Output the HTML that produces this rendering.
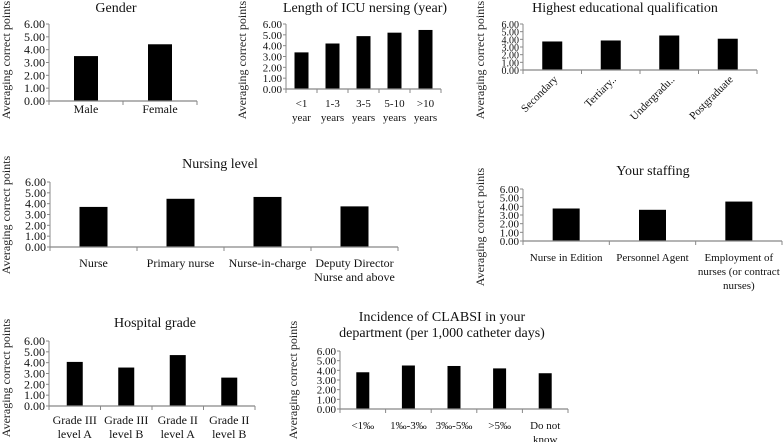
<!DOCTYPE html>
<html><head><meta charset="utf-8">
<style>
html,body{margin:0;padding:0;background:#fff;}
svg{display:block;font-family:"Liberation Serif",serif;}
</style></head>
<body>
<svg id="fig" width="783" height="442" viewBox="0 0 783 442" xmlns="http://www.w3.org/2000/svg"></svg>
<script>
const yTicks = [0,1,2,3,4,5,6];
const genderCats = ["Male","Female"];
const genderVals = [3.5,4.42];
const icuCats = ["<1|year","1-3|years","3-5|years","5-10|years",">10|years"];
const icuVals = [3.38,4.2,4.88,5.2,5.45];
const eduCats = ["Secondary","Tertiary..","Undergradu..","Postgraduate"];
const eduVals = [3.72,3.85,4.5,4.08];
const levelCats = ["Nurse","Primary nurse","Nurse-in-charge","Deputy Director|Nurse and above"];
const levelVals = [3.7,4.45,4.62,3.75];
const staffCats = ["Nurse in Edition","Personnel Agent","Employment of|nurses (or contract|nurses)"];
const staffVals = [3.75,3.6,4.55];
const hospCats = ["Grade III|level A","Grade III|level B","Grade II|level A","Grade II|level B"];
const hospVals = [4.07,3.55,4.7,2.62];
const clabsiCats = ["<1‰","1‰-3‰","3‰-5‰",">5‰","Do not|know"];
const clabsiVals = [3.8,4.5,4.45,4.2,3.7];

const NS="http://www.w3.org/2000/svg";
const svg=document.getElementById('fig');
function mk(tag,attrs,parent){const e=document.createElementNS(NS,tag);for(const k in attrs)e.setAttribute(k,attrs[k]);(parent||svg).appendChild(e);return e;}

function chart(c){
  const g=mk('g',{});
  
  
  const y=v=>c.y0-(v/6)*(c.y0-c.y6);
  const n=c.cats.length, w=(c.x1-c.x0)/n;
  const xc=i=>c.x0+w*(i+0.5);
  c.title.forEach((t,i)=>{
    const e=mk('text',{x:c.tx,y:c.ty+i*16,'text-anchor':'middle','font-size':14,fill:'#111'},g);
    e.textContent=t;
    
    
  });
  const yl=mk('text',{x:0,y:0,'text-anchor':'middle','font-size':c.ylfs||12,fill:'#222',transform:`translate(${c.ylx},${c.yly}) rotate(-90)`},g);
  yl.textContent='Averaging correct points';
  
  
  yTicks.forEach(v=>{
    const t=mk('text',{x:c.x0-4,y:y(v)+4,'text-anchor':'end','font-size':c.tfs||12,fill:'#111'},g);
    t.textContent=v.toFixed(2);
    
    
    mk('line',{x1:c.x0-3,x2:c.x0,y1:y(v),y2:y(v),stroke:'#888','stroke-width':1},g);
  });
  mk('line',{x1:c.x0,x2:c.x0,y1:c.y6,y2:c.y0,stroke:'#888','stroke-width':1},g);
  c.vals.forEach((v,i)=>{
    const b=mk('rect',{x:xc(i)-c.bw/2,y:y(v),width:c.bw,height:c.y0-y(v),fill:'#000'},g);
    
    
  });
  const xa=mk('line',{x1:c.x0,x2:c.x1,y1:c.y0,y2:c.y0,stroke:'#888','stroke-width':1.3},g);
  
  
  for(let i=0;i<=n;i++) mk('line',{x1:c.x0+w*i,x2:c.x0+w*i,y1:c.y0,y2:c.y0+4,stroke:'#888','stroke-width':1},g);
  c.cats.forEach((s,i)=>{
    if(c.rot){
      const t=mk('text',{x:0,y:0,'text-anchor':'end','font-size':11,fill:'#111',transform:`translate(${xc(i)+6},${c.y0+10}) rotate(-45)`},g);
      t.textContent=s;
      
      
    } else {
      s.split('|').forEach((ln,j)=>{
        const t=mk('text',{x:xc(i),y:c.ly+j*14,'text-anchor':'middle','font-size':c.lfs||12,fill:'#111'},g);
        t.textContent=ln;
        
        
      });
    }
  });
}

chart({name:'gender',cats:genderCats,vals:genderVals,x0:49,x1:197,y6:24,y0:101,bw:24,title:['Gender'],tx:116,ty:12,ylx:10,yly:60,ly:113});
chart({name:'icu',cats:icuCats,vals:icuVals,x0:286,x1:441,y6:24,y0:89,bw:14,title:['Length of ICU nersing (year)'],tx:365,ty:12,ylx:246,yly:60,ly:107,tfs:11,lfs:11});
chart({name:'education',cats:eduCats,vals:eduVals,x0:523,x1:757,y6:24,y0:70,bw:20,title:['Highest educational qualification'],tx:625,ty:12,ylx:484,yly:60,tfs:10,rot:true});
chart({name:'nursing-level',cats:levelCats,vals:levelVals,x0:50,x1:398,y6:182,y0:247,bw:28,title:['Nursing level'],tx:220,ty:168,ylx:10,yly:215,ly:267});
chart({name:'staffing',cats:staffCats,vals:staffVals,x0:523,x1:782,y6:189,y0:241,bw:27,title:['Your staffing'],tx:653,ty:175,ylx:484,yly:227,ly:261,tfs:11,lfs:11});
chart({name:'hospital-grade',cats:hospCats,vals:hospVals,x0:49,x1:255,y6:341,y0:406,bw:16,title:['Hospital grade'],tx:155,ty:327,ylx:10,yly:378,ly:424});
chart({name:'clabsi',cats:clabsiCats,vals:clabsiVals,x0:340,x1:568,y6:351,y0:409,bw:13,title:['Incidence of CLABSI in your','department (per 1,000 catheter days)'],tx:442,ty:321,ylx:297,yly:380,ly:429,tfs:11,lfs:11});
</script>
</body></html>
